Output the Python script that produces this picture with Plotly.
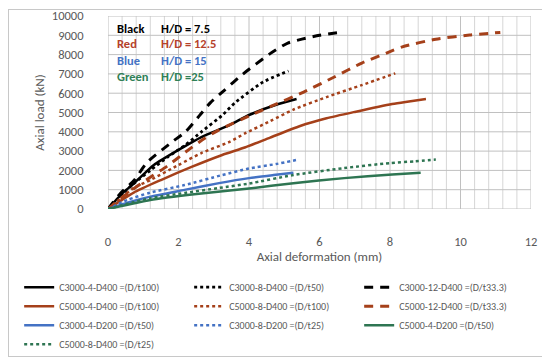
import plotly.graph_objects as go

# ---- data (deformation mm, load kN) ----
c3000_4_d400_x = [0, 0.4, 0.75, 1.3, 2.0, 2.65, 3.45, 4.0, 4.75, 5.35]
c3000_4_d400_y = [0, 800, 1350, 2280, 3060, 3730, 4350, 4870, 5390, 5700]

c3000_8_d400_x = [0, 0.45, 0.75, 1.2, 1.7, 2.2, 2.65, 3.25, 3.6, 4.4, 5.12]
c3000_8_d400_y = [0, 850, 1350, 2000, 2700, 3320, 4000, 4870, 5500, 6580, 7150]

c3000_12_d400_x = [0, 0.35, 0.75, 1.1, 1.8, 2.2, 2.6, 2.9, 3.3, 3.8, 4.6, 5.1, 5.5, 6.0, 6.65]
c3000_12_d400_y = [0, 800, 1500, 2400, 3450, 4000, 4850, 5500, 6150, 6950, 8050, 8600, 8800, 9000, 9170]

c5000_4_d400_x = [0, 0.73, 1.5, 2.37, 3.24, 3.9, 4.6, 5.45, 6.2, 7.0, 8.06, 8.44, 9.02]
c5000_4_d400_y = [0, 850, 1500, 2180, 2800, 3200, 3700, 4300, 4700, 5030, 5440, 5550, 5700]

c5000_8_d400a_x = [0, 0.73, 1.2, 2.0, 2.65, 3.45, 3.9, 4.6, 5.26, 6.2, 7.2, 8.15]
c5000_8_d400a_y = [0, 1090, 1500, 2280, 2900, 3480, 3930, 4550, 5150, 5800, 6420, 7030]

c5000_12_d400_x = [0, 0.65, 1.0, 1.7, 2.2, 2.65, 3.15, 4.1, 4.6, 5.55, 6.42, 7.2, 7.9, 8.35, 9.3, 10.26, 11.13]
c5000_12_d400_y = [0, 950, 1400, 2250, 2950, 3550, 4100, 4900, 5300, 6060, 6840, 7560, 8080, 8400, 8800, 9015, 9150]

c3000_4_d200_x = [0, 0.6, 1.2, 2.17, 3.15, 4.0, 4.7, 5.26]
c3000_4_d200_y = [0, 350, 640, 990, 1340, 1600, 1760, 1880]

c3000_8_d200_x = [0, 0.55, 1.2, 2.17, 3.24, 4.0, 4.77, 5.4]
c3000_8_d200_y = [0, 470, 850, 1240, 1760, 2100, 2330, 2560]

c5000_4_d200_x = [0, 1.2, 2.65, 4.0, 5.26, 6.7, 8.06, 8.87]
c5000_4_d200_y = [0, 470, 800, 1060, 1340, 1600, 1790, 1880]

c5000_8_d400b_x = [0, 1.2, 2.17, 3.15, 4.0, 5.26, 6.7, 8.0, 8.7, 9.3]
c5000_8_d400b_y = [0, 560, 830, 1090, 1320, 1760, 2120, 2380, 2470, 2560]

series_names = [
    "C3000-4-D400 =(D/t100)", "C3000-8-D400 =(D/t50)", "C3000-12-D400 =(D/t33.3)",
    "C5000-4-D400 =(D/t100)", "C5000-8-D400 =(D/t100)", "C5000-12-D400 =(D/t33.3)",
    "C3000-4-D200 =(D/t50)", "C3000-8-D200 =(D/t25)", "C5000-4-D200 =(D/t50)",
    "C5000-8-D400 =(D/t25)",
]

# x grid every 0.4 mm, labels every 2 mm
x_grid = [0, 0.4, 0.8, 1.2, 1.6, 2, 2.4, 2.8, 3.2, 3.6, 4, 4.4, 4.8, 5.2, 5.6, 6,
          6.4, 6.8, 7.2, 7.6, 8, 8.4, 8.8, 9.2, 9.6, 10, 10.4, 10.8, 11.2, 11.6, 12]
x_labels = ["0", "", "", "", "", "2", "", "", "", "", "4", "", "", "", "", "6",
            "", "", "", "", "8", "", "", "", "", "10", "", "", "", "", "12"]
y_ticks = [0, 1000, 2000, 3000, 4000, 5000, 6000, 7000, 8000, 9000, 10000]
y_labels = ["0", "1000", "2000", "3000", "4000", "5000", "6000", "7000", "8000", "9000", "10000"]

note_labels = ["Black", "Red", "Blue", "Green"]
note_values = ["H/D = 7.5", "H/D = 12.5", "H/D = 15", "H/D =25"]

BLACK = "#000000"
RED = "#A5401A"
BLUE = "#4472C4"
GREEN = "#2E7552"
note_colors = [BLACK, "#B5412A", BLUE, "#2F8056"]

series = [
    (c3000_4_d400_x, c3000_4_d400_y, BLACK, "solid", 2.5),
    (c3000_8_d400_x, c3000_8_d400_y, BLACK, "dot", 2.8),
    (c3000_12_d400_x, c3000_12_d400_y, BLACK, "9px,7px", 3),
    (c5000_4_d400_x, c5000_4_d400_y, RED, "solid", 2.5),
    (c5000_8_d400a_x, c5000_8_d400a_y, RED, "dot", 2.5),
    (c5000_12_d400_x, c5000_12_d400_y, RED, "9px,7px", 3),
    (c3000_4_d200_x, c3000_4_d200_y, BLUE, "solid", 2.5),
    (c3000_8_d200_x, c3000_8_d200_y, BLUE, "dot", 2.5),
    (c5000_4_d200_x, c5000_4_d200_y, GREEN, "solid", 2.5),
    (c5000_8_d400b_x, c5000_8_d400b_y, GREEN, "dot", 2.5),
]

FONT = "Carlito, Lato, sans-serif"
fig = go.Figure()

# gridlines (drawn as background line traces, built from the tick lists)
y_lo, y_hi = y_ticks[0], y_ticks[-1]
x_lo, x_hi = x_grid[0], x_grid[-1]
minor_x, minor_y, major_x, major_y = [], [], [], []
for gx, lab in zip(x_grid, x_labels):
    if lab:
        major_x += [gx, gx, None]
        major_y += [y_lo, y_hi, None]
    else:
        minor_x += [gx, gx, None]
        minor_y += [y_lo, y_hi, None]
for gy in y_ticks:
    major_x += [x_lo, x_hi, None]
    major_y += [gy, gy, None]
fig.add_trace(go.Scatter(x=minor_x, y=minor_y, mode="lines", showlegend=False, hoverinfo="skip",
                         line=dict(color="#D6D6D6", width=1)))
fig.add_trace(go.Scatter(x=major_x, y=major_y, mode="lines", showlegend=False, hoverinfo="skip",
                         line=dict(color="#C0C0C0", width=1)))

for name, (xs, ys, col, dash, w) in zip(series_names, series):
    fig.add_trace(go.Scatter(x=xs, y=ys, mode="lines", name=name,
                             line=dict(color=col, dash=dash, width=w, shape="spline", smoothing=0.6)))

for i, (lab, val, col) in enumerate(zip(note_labels, note_values, note_colors)):
    yy = [9330, 8550, 7670, 6840][i]
    fig.add_annotation(x=0.2, y=yy, xref="x", yref="y", text="<b>%s</b>" % lab, showarrow=False,
                       xanchor="left", font=dict(color=col, size=12.5, family=FONT))
    fig.add_annotation(x=1.45, y=yy, xref="x", yref="y", text="<b>%s</b>" % val, showarrow=False,
                       xanchor="left", font=dict(color=col, size=12.5, family=FONT))

# outer chart border
fig.add_annotation(x=0.4007, y=0.1373, xref="paper", yref="paper", text=" ", showarrow=False,
                   xanchor="center", yanchor="middle", width=536, height=346, borderpad=0,
                   borderwidth=1, bordercolor="#C8C8C8", bgcolor="rgba(0,0,0,0)")

fig.update_layout(
    width=542, height=352,
    margin=dict(l=100, r=19, t=8, b=151, autoexpand=False),
    paper_bgcolor="white", plot_bgcolor="white",
    font=dict(family=FONT, color="#595959"),
    showlegend=True,
    legend=dict(orientation="h", x=-0.21, y=-0.33, xanchor="left", yanchor="top",
                entrywidth=125, entrywidthmode="pixels", traceorder="normal",
                font=dict(size=10, color="#595959", family=FONT), bgcolor="rgba(0,0,0,0)"),
    xaxis=dict(range=[x_lo, x_hi], tickmode="array", tickvals=x_grid, ticktext=x_labels,
               showgrid=False, zeroline=False, showline=False, automargin=False,
               ticks="outside", ticklen=21, tickcolor="rgba(0,0,0,0)",
               tickfont=dict(size=12.5, color="#595959"),
               title=dict(text="Axial deformation (mm)", font=dict(size=13, color="#595959"), standoff=0)),
    yaxis=dict(range=[y_lo, y_hi], tickmode="array", tickvals=y_ticks, ticktext=y_labels,
               showgrid=False, zeroline=False, showline=False, automargin=False,
               ticks="outside", ticklen=21, tickcolor="rgba(0,0,0,0)",
               tickfont=dict(size=12.5, color="#595959"),
               title=dict(text="Axial load (kN)", font=dict(size=13, color="#595959"), standoff=4)),
)

fig.write_html("out.html")
